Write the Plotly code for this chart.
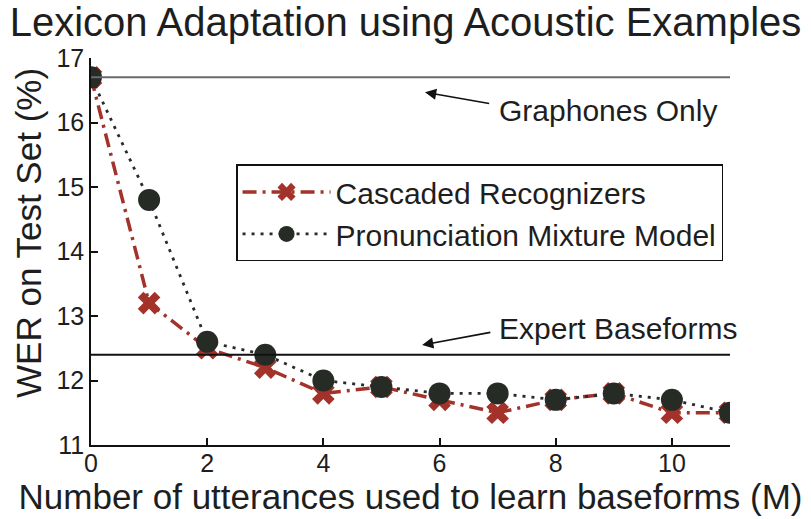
import plotly.graph_objects as go

FONT = "Liberation Sans, Arial, Helvetica, sans-serif"
INK = "#1e1e1e"
RED = "#a3322a"

utterances = [0, 1, 2, 3, 4, 5, 6, 7, 8, 9, 10, 11]
cascaded = [16.7, 13.2, 12.5, 12.2, 11.8, 11.9, 11.7, 11.5, 11.7, 11.8, 11.5, 11.5]
pmm = [16.7, 14.8, 12.6, 12.4, 12.0, 11.9, 11.8, 11.8, 11.7, 11.8, 11.7, 11.5]

graphones_only = 16.7
expert_baseforms = 12.4

x_ticks = [0, 2, 4, 6, 8, 10]
y_ticks = [11, 12, 13, 14, 15, 16, 17]

fig = go.Figure()

# reference lines
fig.add_hline(y=graphones_only, line=dict(color="#6a6a6a", width=2))
fig.add_hline(y=expert_baseforms, line=dict(color="#111111", width=2))

fig.add_trace(
    go.Scatter(
        x=utterances,
        y=cascaded,
        name="Cascaded Recognizers",
        mode="lines+markers",
        line=dict(color=RED, width=3.5, dash="14px,6px,3px,6px"),
        marker=dict(symbol="x", size=20, color=RED, line=dict(width=0)),
    )
)
fig.add_trace(
    go.Scatter(
        x=utterances,
        y=pmm,
        name="Pronunciation Mixture Model",
        mode="lines+markers",
        line=dict(color="#2a2a2a", width=2.8, dash="3px,6px"),
        marker=dict(symbol="circle", size=22, color="#262b26", line=dict(width=0)),
    )
)

# labels for the horizontal reference lines
fig.add_annotation(x=5.75, y=16.47, ax=6.88, ay=16.29, axref="x", ayref="y",
                   text="", showarrow=True, arrowhead=2, arrowsize=1.4,
                   arrowwidth=1.6, arrowcolor="#111111")
fig.add_annotation(x=6.99, y=16.19, text="Graphones Only", showarrow=False,
                   xanchor="left", yanchor="middle",
                   font=dict(family=FONT, size=30, color=INK))
fig.add_annotation(x=5.7, y=12.55, ax=6.9, ay=12.75, axref="x", ayref="y",
                   text="", showarrow=True, arrowhead=2, arrowsize=1.4,
                   arrowwidth=1.6, arrowcolor="#111111")
fig.add_annotation(x=6.99, y=12.8, text="Expert Baseforms", showarrow=False,
                   xanchor="left", yanchor="middle",
                   font=dict(family=FONT, size=30, color=INK))

# y axis title sits a little above the plot centre, so place it by hand
fig.add_annotation(x=-0.097, y=0.548, xref="paper", yref="paper",
                   text="WER on Test Set (%)", textangle=-90, showarrow=False,
                   xanchor="center", yanchor="middle",
                   font=dict(family=FONT, size=35, color=INK))

fig.update_layout(
    width=811,
    height=519,
    paper_bgcolor="white",
    plot_bgcolor="white",
    margin=dict(l=91, r=81, t=58, b=74),
    font=dict(family=FONT, color=INK, size=25),
    title=dict(
        text="Lexicon Adaptation using Acoustic Examples",
        x=0.5, xanchor="center", y=0.984, yanchor="top",
        font=dict(family=FONT, size=40, color=INK),
    ),
    showlegend=True,
    legend=dict(
        x=0.227, y=0.725, xanchor="left", yanchor="top",
        bordercolor="#111111", borderwidth=1.5, bgcolor="white",
        font=dict(family=FONT, size=30, color=INK),
        itemwidth=88,
    ),
    xaxis=dict(
        range=[0, 11],
        tickvals=x_ticks,
        ticks="inside", ticklen=7, tickwidth=1.5, tickcolor="#111111",
        showline=True, linecolor="#111111", linewidth=1.5,
        showgrid=False, zeroline=False,
        tickfont=dict(size=25),
        ticklabelstandoff=-5,
        title=dict(text="Number of utterances used to learn baseforms (M)",
                   font=dict(size=35), standoff=0),
        automargin=False,
    ),
    yaxis=dict(
        range=[11, 17],
        tickvals=y_ticks,
        ticks="inside", ticklen=7, tickwidth=1.5, tickcolor="#111111",
        showline=True, linecolor="#111111", linewidth=1.5,
        showgrid=False, zeroline=False,
        tickfont=dict(size=25),
        automargin=False,
    ),
)

fig.write_html("out.html", config={"displayModeBar": False},
               post_script="document.body.style.margin='0px';")
